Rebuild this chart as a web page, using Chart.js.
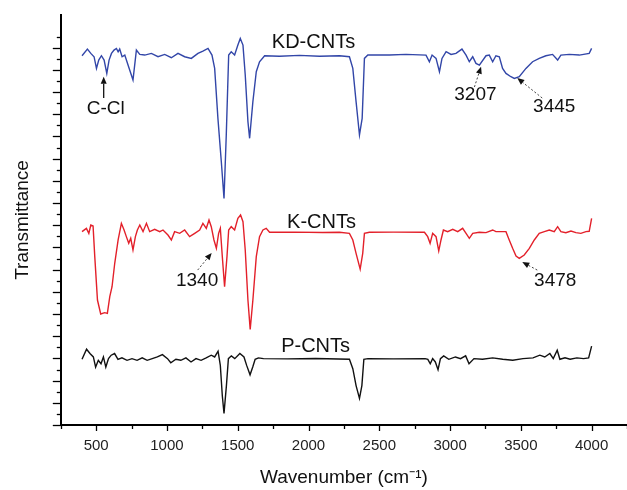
<!DOCTYPE html>
<html>
<head>
<meta charset="utf-8">
<script src="https://cdn.jsdelivr.net/npm/chart.js@4.4.1/dist/chart.umd.min.js"></script>
<style>
  html, body { margin: 0; padding: 0; background: #fff; }
  #wrap { width: 627px; height: 490px; }
</style>
</head>
<body>
<div id="wrap"><canvas id="ftir"></canvas></div>
<script>
// FTIR spectra (wavenumber in cm-1, transmittance in arbitrary offset units)
var kdWave = [400,438,462,485,502,518,537,556,575,591,608,626,643,655,666,683,702,725,760,784,808,843,890,937,984,1031,1078,1125,1172,1219,1254,1290,1318,1337,1360,1384,1403,1419,1436,1454,1478,1501,1518,1537,1553,1572,1584,1607,1631,1654,1690,1795,1936,2078,2219,2289,2313,2336,2360,2379,2395,2419,2572,2689,2830,2854,2873,2901,2925,2943,2972,3007,3042,3084,3113,3136,3160,3183,3207,3254,3277,3301,3324,3348,3371,3395,3430,3454,3489,3536,3583,3630,3677,3724,3760,3783,3842,3913,3983,4000];
var kdT = [33.27,33.87,33.48,33.18,32.13,32.88,33.27,32.88,31.68,32.88,33.48,33.78,33.93,33.63,33.87,33.18,33.33,32.43,31.08,33.78,33.39,33.33,33.48,33.18,33.39,33.09,33.48,33.18,33.03,33.48,33.69,33.93,33.33,32.13,27.63,23.72,20.42,26.13,33.33,33.63,33.33,34.23,34.83,34.23,31.53,27.33,25.83,29.13,31.83,32.73,33.27,33.23,33.30,33.22,33.27,33.18,32.13,29.13,26.13,27.63,33.03,33.33,33.33,33.39,33.33,32.73,33.33,33.03,31.83,33.03,33.63,33.39,33.48,33.87,33.33,32.73,33.18,32.58,32.43,33.27,33.33,32.73,33.27,33.18,32.13,31.68,31.38,31.23,31.38,32.13,32.73,33.03,33.27,33.39,32.88,33.33,33.39,33.33,33.48,33.93];

var kWave = [400,431,448,462,478,490,509,532,560,579,596,612,631,655,678,697,713,730,744,760,777,791,808,831,855,878,913,949,972,1007,1031,1054,1090,1125,1160,1196,1231,1254,1278,1297,1313,1332,1349,1365,1377,1391,1407,1424,1436,1454,1478,1501,1520,1537,1553,1572,1588,1607,1631,1654,1678,1701,1725,1900,2100,2219,2289,2313,2336,2365,2383,2395,2430,2600,2819,2842,2859,2877,2901,2920,2936,2953,2983,3019,3054,3089,3113,3136,3160,3207,3254,3301,3324,3395,3418,3442,3466,3489,3524,3560,3595,3630,3666,3701,3736,3760,3783,3818,3854,3889,3924,3960,3983,4000];
var kT = [17.42,17.72,17.27,18.02,17.93,15.17,11.26,10.00,10.12,10.06,11.56,12.46,14.57,16.67,18.17,17.57,16.97,16.37,16.82,15.77,16.97,17.57,18.02,17.42,18.17,17.42,17.63,17.42,17.57,17.12,16.67,17.42,17.27,17.57,16.97,17.27,17.57,18.17,17.72,18.47,17.87,16.67,15.92,17.27,17.72,15.17,12.46,15.17,17.57,17.87,17.57,18.62,18.92,18.32,15.77,11.26,8.62,11.26,15.17,16.97,17.57,17.72,17.36,17.38,17.34,17.36,17.27,16.67,15.47,14.05,15.47,17.27,17.36,17.38,17.36,16.97,16.37,17.27,16.97,15.68,16.67,17.57,17.42,17.63,17.42,17.72,17.27,16.82,17.27,17.36,17.33,17.57,17.42,17.42,16.67,15.92,15.23,15.02,15.32,15.92,16.67,17.27,17.42,17.57,17.42,17.87,17.42,17.33,17.48,17.33,17.27,17.42,17.45,18.62];

var pWave = [400,432,456,480,496,515,534,551,568,587,606,630,654,682,718,753,789,825,860,896,932,968,1004,1027,1063,1098,1134,1170,1205,1241,1277,1313,1337,1361,1377,1391,1403,1420,1434,1455,1479,1515,1544,1563,1587,1606,1623,1646,1682,1850,2050,2289,2313,2336,2360,2377,2391,2420,2600,2824,2843,2860,2877,2896,2915,2932,2955,2991,3038,3074,3110,3134,3169,3229,3301,3372,3443,3515,3586,3634,3669,3705,3729,3757,3776,3812,3848,3896,3943,3979,4000];
var pT = [5.92,6.83,6.44,6.13,5.22,5.83,5.52,6.13,5.22,5.98,6.29,6.44,5.92,6.05,5.83,5.98,5.83,6.05,5.83,5.98,6.13,6.34,5.98,5.61,5.92,5.83,6.05,5.68,5.98,5.83,6.05,6.29,6.13,6.65,5.37,2.64,1.05,3.55,5.98,6.23,5.98,6.44,6.13,5.37,4.52,5.22,5.92,6.05,5.98,5.96,5.99,5.92,5.07,3.55,2.40,3.55,5.92,5.98,5.96,5.98,5.92,5.52,5.98,5.68,4.98,5.98,6.23,5.92,6.13,5.98,6.23,5.52,5.98,5.92,6.05,5.92,5.83,5.98,6.05,6.29,6.13,6.44,5.98,6.74,5.92,6.05,5.92,6.05,5.98,6.05,7.10];

var seriesNames = ['KD-CNTs', 'K-CNTs', 'P-CNTs'];
var seriesColors = ['#3246a8', '#e3202a', '#111111'];

// series name labels and peak notes, in data units
var nameX = [2035, 2092, 2050];
var nameY = [34.5, 18.29, 7.03];
var noteText = ['C-Cl', '3207', '3445', '1340', '3478'];
var noteX    = [568, 3179, 3736, 1213, 3743];
var noteY    = [28.47, 29.73, 28.65, 12.97, 12.97];
var arrowFromX = [553, 3172, 3651, 1217, 3616];
var arrowFromY = [29.46, 30.45, 29.46, 13.96, 13.96];
var arrowToX   = [553, 3219, 3475, 1316, 3510];
var arrowToY   = [31.38, 32.28, 31.26, 15.5, 14.68];
var arrowDashed = [false, true, true, true, true];

function pts(xs, ys) {
  return xs.map(function (x, i) { return { x: x, y: ys[i] }; });
}

var FONT = "'Liberation Sans', Arial, sans-serif";

var annotatePlugin = {
  id: 'annotate',
  afterDraw: function (chart) {
    var ctx = chart.ctx;
    var xs = chart.scales.x, ys = chart.scales.y;
    ctx.save();
    // outward tick marks, long on labelled values
    ctx.strokeStyle = '#000';
    ctx.lineWidth = 1.3;
    xs.ticks.forEach(function (t) {
      var px = Math.round(xs.getPixelForValue(t.value)) + 0.5;
      var len = (t.value % 500 === 0) ? 6 : 4;
      ctx.beginPath();
      ctx.moveTo(px, xs.top);
      ctx.lineTo(px, xs.top + len);
      ctx.stroke();
    });
    ys.ticks.forEach(function (t) {
      var v = t.value;
      if (Math.abs(v - Math.round(v)) > 1e-6) return;
      var py = Math.round(ys.getPixelForValue(v)) + 0.5;
      var len = (Math.round(v) % 2 === 0) ? 8 : 4;
      ctx.beginPath();
      ctx.moveTo(ys.right, py);
      ctx.lineTo(ys.right - len, py);
      ctx.stroke();
    });

    // series names
    ctx.fillStyle = '#111';
    ctx.textAlign = 'center';
    ctx.textBaseline = 'middle';
    ctx.font = '20px ' + FONT;
    seriesNames.forEach(function (n, i) {
      ctx.fillText(n, xs.getPixelForValue(nameX[i]), ys.getPixelForValue(nameY[i]));
    });

    // peak notes with arrows
    ctx.font = '19px ' + FONT;
    noteText.forEach(function (txt, i) {
      ctx.fillStyle = '#111';
      ctx.fillText(txt, xs.getPixelForValue(noteX[i]), ys.getPixelForValue(noteY[i]));
      var x0 = xs.getPixelForValue(arrowFromX[i]), y0 = ys.getPixelForValue(arrowFromY[i]);
      var x1 = xs.getPixelForValue(arrowToX[i]), y1 = ys.getPixelForValue(arrowToY[i]);
      var ang = Math.atan2(y1 - y0, x1 - x0);
      var hl = 7, hw = 3;
      var bx = x1 - hl * Math.cos(ang), by = y1 - hl * Math.sin(ang);
      ctx.strokeStyle = arrowDashed[i] ? '#444' : '#111';
      ctx.lineWidth = arrowDashed[i] ? 1 : 1.3;
      ctx.setLineDash(arrowDashed[i] ? [2, 2] : []);
      ctx.beginPath();
      ctx.moveTo(x0, y0);
      ctx.lineTo(bx, by);
      ctx.stroke();
      ctx.setLineDash([]);
      ctx.fillStyle = '#111';
      ctx.beginPath();
      ctx.moveTo(x1, y1);
      ctx.lineTo(bx + hw * Math.sin(ang), by - hw * Math.cos(ang));
      ctx.lineTo(bx - hw * Math.sin(ang), by + hw * Math.cos(ang));
      ctx.closePath();
      ctx.fill();
    });
    ctx.restore();
  }
};

var chart_ftir = new Chart(document.getElementById('ftir'), {
  type: 'line',
  data: {
    datasets: [
      { label: seriesNames[0], data: pts(kdWave, kdT), borderColor: seriesColors[0] },
      { label: seriesNames[1], data: pts(kWave, kT), borderColor: seriesColors[1] },
      { label: seriesNames[2], data: pts(pWave, pT), borderColor: seriesColors[2] }
    ]
  },
  options: {
    animation: false,
    responsive: true,
    maintainAspectRatio: false,
    layout: { autoPadding: false, padding: { left: 2, top: 15, right: 0, bottom: 0 } },
    elements: {
      line: { borderWidth: 1.4, tension: 0, fill: false },
      point: { radius: 0, hoverRadius: 0 }
    },
    plugins: {
      legend: { display: false },
      tooltip: { enabled: false }
    },
    scales: {
      x: {
        type: 'linear',
        min: 250,
        max: 4250,
        grid: { drawOnChartArea: false, tickLength: 11.5, tickColor: 'rgba(0,0,0,0)' },
        border: { display: true, color: '#000', width: 2 },
        ticks: {
          stepSize: 250,
          autoSkip: false,
          maxRotation: 0,
          padding: 0,
          color: '#222',
          font: { family: FONT, size: 15 },
          callback: function (v) { return (v % 500 === 0 && v >= 500 && v <= 4000) ? String(v) : ''; }
        },
        title: {
          display: true,
          text: 'Wavenumber (cm\u207B\u00B9)',
          color: '#111',
          font: { family: FONT, size: 19 },
          padding: { top: 11.7, bottom: 1 }
        }
      },
      y: {
        min: 0,
        max: 36.94,
        grid: { drawOnChartArea: false, tickLength: 23, tickColor: 'rgba(0,0,0,0)' },
        border: { display: true, color: '#000', width: 2 },
        ticks: { display: false, stepSize: 1 },
        title: {
          display: true,
          text: 'Transmittance',
          color: '#111',
          font: { family: FONT, size: 19 },
          padding: { top: 9, bottom: 4 }
        }
      }
    }
  },
  plugins: [annotatePlugin, {
    id: 'whiteBg',
    beforeDraw: function (chart) {
      var ctx = chart.canvas.getContext('2d');
      ctx.save();
      ctx.globalCompositeOperation = 'destination-over';
      ctx.fillStyle = 'white';
      ctx.fillRect(0, 0, chart.canvas.width, chart.canvas.height);
      ctx.restore();
    }
  }]
});
</script>
</body>
</html>
